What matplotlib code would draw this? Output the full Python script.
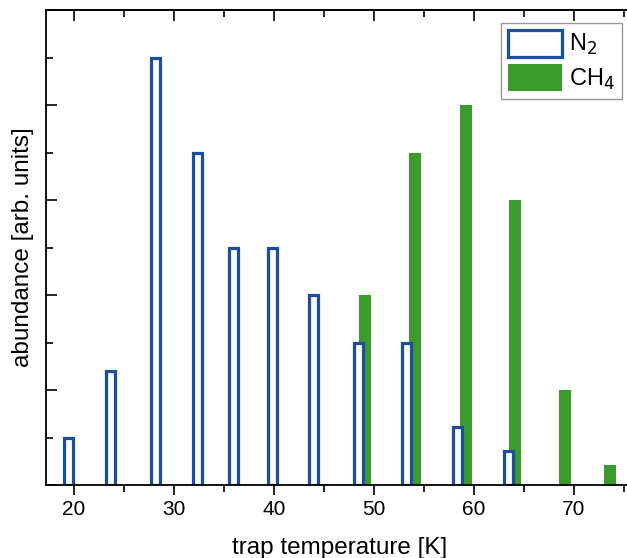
import numpy as np
import matplotlib
matplotlib.use("Agg")
import matplotlib.pyplot as plt
from matplotlib.ticker import MultipleLocator

# N2 data
n2_temp = [19.45, 23.65, 28.1, 32.35, 35.9, 39.8, 43.95, 48.4, 53.2, 58.35, 63.4]
n2_abund = [1.0, 2.4, 9.0, 7.0, 5.0, 5.0, 4.0, 3.0, 3.0, 1.22, 0.72]

# CH4 data
ch4_temp = [44.8, 49.1, 54.1, 59.2, 64.1, 69.1, 73.6]
ch4_abund = [0.03, 4.0, 7.0, 8.0, 6.0, 2.0, 0.42]

blue = "#1a4ea0"
green = "#3b9b2b"

plt.rcParams["font.family"] = ["Liberation Sans", "DejaVu Sans"]

fig = plt.figure(figsize=(6.27, 5.58), dpi=100)
ax = fig.add_axes([46 / 627, (558 - 485) / 558, 588 / 627, 475 / 558])

ax.bar(ch4_temp, ch4_abund, width=1.15, color=green, label="CH$_4$", zorder=1)
ax.bar(n2_temp, n2_abund, width=0.9, facecolor="white", edgecolor=blue,
       linewidth=2.3, label="N$_2$", zorder=2)

ax.set_xlim(17.2, 76)
ax.set_ylim(0, 10)
ax.xaxis.set_major_locator(MultipleLocator(10))
ax.xaxis.set_minor_locator(MultipleLocator(5))
ax.yaxis.set_major_locator(MultipleLocator(2))
ax.yaxis.set_minor_locator(MultipleLocator(1))
ax.set_yticklabels([])

ax.tick_params(axis="x", which="both", direction="out", top=False, labelsize=15, width=1.2)
ax.tick_params(axis="x", which="major", length=7)
ax.tick_params(axis="x", which="minor", length=5)
ax.tick_params(axis="y", which="both", direction="in", left=True, right=False, width=1.2)
ax.tick_params(axis="y", which="major", length=8)
ax.tick_params(axis="y", which="minor", length=5)

# inward ticks on top
sec = ax.secondary_xaxis("top")
sec.xaxis.set_major_locator(MultipleLocator(10))
sec.xaxis.set_minor_locator(MultipleLocator(5))
sec.tick_params(which="both", direction="in", labeltop=False, width=1.2)
sec.tick_params(which="major", length=8)
sec.tick_params(which="minor", length=5)
sec.spines["top"].set_linewidth(1.3)

for s in ax.spines.values():
    s.set_linewidth(1.3)

ax.set_xlabel("trap temperature [K]", fontsize=17.5, labelpad=13)
ax.set_ylabel("abundance [arb. units]", fontsize=17.5, labelpad=5)

handles, labels = ax.get_legend_handles_labels()
leg = ax.legend(handles[::-1], labels[::-1], loc="upper right",
                bbox_to_anchor=((622 - 46) / 588, (485 - 23) / 475), fontsize=17,
                handlelength=2.3, handleheight=1.35, handletextpad=0.3,
                borderpad=0.3, labelspacing=0.3, fancybox=False,
                edgecolor="#999999", framealpha=1, borderaxespad=0)
leg.get_frame().set_linewidth(1.0)

fig.savefig("out.png", dpi=100)
